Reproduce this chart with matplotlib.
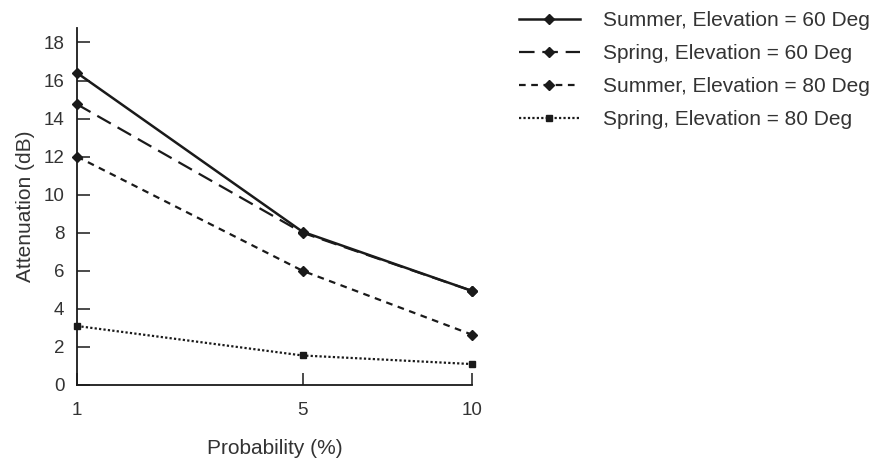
import numpy as np
import matplotlib
matplotlib.use("Agg")
import matplotlib.pyplot as plt

plt.rcParams["font.family"] = ["Liberation Sans", "DejaVu Sans"]

probability = [1, 5, 10]
summer_60 = [16.4, 8.05, 4.95]
spring_60 = [14.75, 8.0, 4.95]
summer_80 = [12.0, 6.0, 2.65]
spring_80 = [3.1, 1.55, 1.1]

text_col = "#333333"
line_col = "#1a1a1a"

fig = plt.figure(figsize=(8.8, 4.62), dpi=100)
ax = fig.add_axes([0.0875, 0.1667, 0.4485, 0.7723])

ax.set_xscale("function", functions=(np.sqrt, np.square))

ax.plot(probability, spring_60, color=line_col, lw=1.6, ls=(0, (7, 3.5)),
        marker="D", ms=5, clip_on=False, label="Spring, Elevation = 60 Deg")
ax.plot(probability, summer_60, color=line_col, lw=1.8, ls="-",
        marker="D", ms=5, clip_on=False, label="Summer, Elevation = 60 Deg")
ax.plot(probability, summer_80, color=line_col, lw=1.6, ls=(0, (3, 2.5)),
        marker="D", ms=5, clip_on=False, label="Summer, Elevation = 80 Deg")
ax.plot(probability, spring_80, color=line_col, lw=1.6, ls=(0, (1, 1)),
        marker="s", ms=5, clip_on=False, label="Spring, Elevation = 80 Deg")

ax.set_xlim(1, 10)
ax.set_ylim(0, 18.75)
ax.set_xticks(probability)
ax.set_xticklabels([str(p) for p in probability])
ax.set_yticks(range(0, 19, 2))

for side in ["top", "right"]:
    ax.spines[side].set_visible(False)
for side in ["left", "bottom"]:
    ax.spines[side].set_linewidth(1.3)
    ax.spines[side].set_color(line_col)

ax.tick_params(axis="both", direction="in", length=9, width=1.1,
               colors=line_col, labelcolor=text_col, labelsize=13.5)
ax.tick_params(axis="x", pad=12)
ax.tick_params(axis="y", pad=9)

ax.set_xlabel("Probability (%)", fontsize=15, color=text_col, labelpad=15)
ax.set_ylabel("Attenuation (dB)", fontsize=15, color=text_col, labelpad=6)

handles, labels = ax.get_legend_handles_labels()
order = [1, 0, 2, 3]
leg = fig.legend([handles[i] for i in order], [labels[i] for i in order],
                 loc="upper left", bbox_to_anchor=(0.577, 1.0),
                 frameon=False, fontsize=15, handlelength=2.9,
                 handletextpad=1.1, labelspacing=0.67, borderaxespad=0.15)
for t in leg.get_texts():
    t.set_color(text_col)

fig.savefig("out.png", dpi=100)
